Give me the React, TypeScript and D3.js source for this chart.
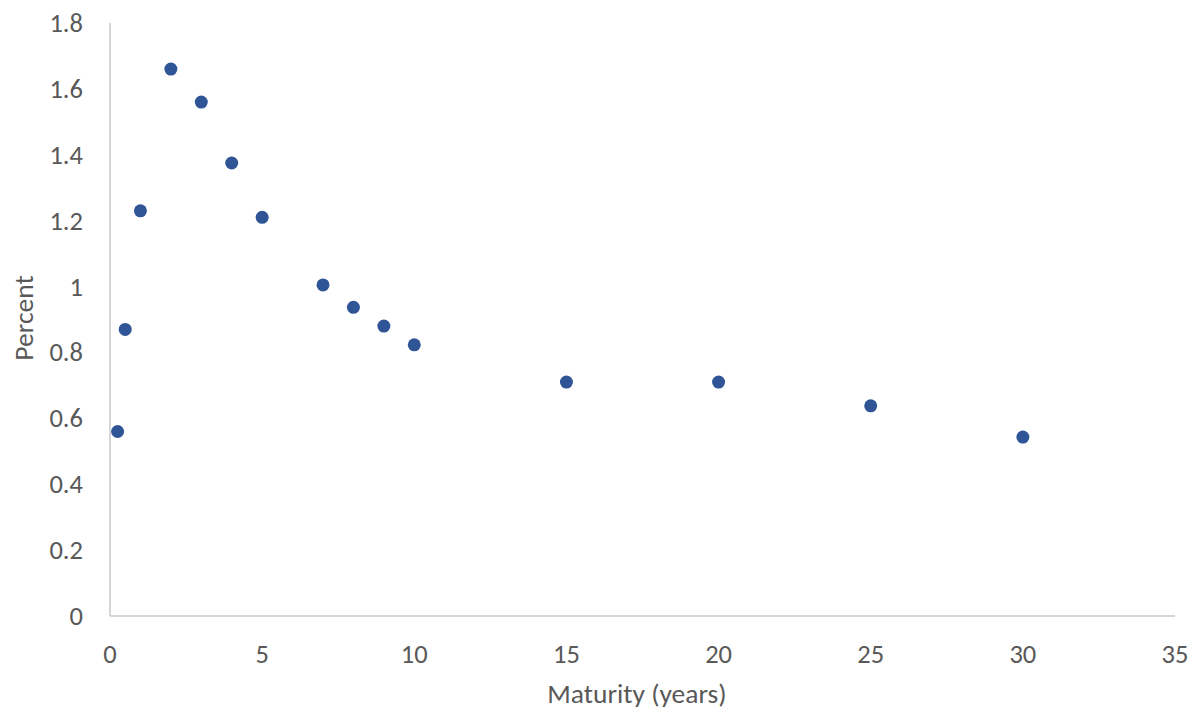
import React from "react";
import * as d3 from "d3";

const maturities = [0.25, 0.5, 1, 2, 3, 4, 5, 7, 8, 9, 10, 15, 20, 25, 30];
const percents = [0.56, 0.87, 1.23, 1.66, 1.56, 1.375, 1.21, 1.005, 0.937, 0.88, 0.823, 0.71, 0.71, 0.638, 0.543];
const xTicks = [0, 5, 10, 15, 20, 25, 30, 35];
const yTicks = [0, 0.2, 0.4, 0.6, 0.8, 1, 1.2, 1.4, 1.6, 1.8];
const xTitle = "Maturity (years)";
const yTitle = "Percent";

const W = 1194;
const H = 708;
const FONT = "Calibri, Carlito, 'Open Sans', sans-serif";

export default function App() {
  const x = d3.scaleLinear().domain([0, 35]).range([110, 1175]);
  const y = d3.scaleLinear().domain([0, 1.8]).range([616, 23]);
  const axisColor = "#c8c8c8";
  const textColor = "#595959";
  return (
    <svg width={W} height={H} style={{ position: "absolute", left: 0, top: 0, background: "#fff" }}>
      <line x1={x(0)} x2={x(35)} y1={y(0)} y2={y(0)} stroke={axisColor} strokeWidth={1.5} />
      <line x1={x(0)} x2={x(0)} y1={y(0)} y2={y(1.8)} stroke={axisColor} strokeWidth={1.5} />
      {yTicks.map((t) => (
        <text key={"y" + t} x={83} y={y(t)} textAnchor="end" dominantBaseline="central"
          fontFamily={FONT} fontSize={26.5} fill={textColor}>
          {String(t)}
        </text>
      ))}
      {xTicks.map((t) => (
        <text key={"x" + t} x={x(t)} y={654} textAnchor="middle" dominantBaseline="central"
          fontFamily={FONT} fontSize={26.5} fill={textColor}>
          {String(t)}
        </text>
      ))}
      <text x={637} y={693} textAnchor="middle" dominantBaseline="central"
        fontFamily={FONT} fontSize={27.5} fill={textColor}>
        {xTitle}
      </text>
      <text transform={`translate(23,318) rotate(-90)`} textAnchor="middle" dominantBaseline="central"
        fontFamily={FONT} fontSize={27.5} fill={textColor}>
        {yTitle}
      </text>
      {maturities.map((m, i) => (
        <circle key={i} cx={x(m)} cy={y(percents[i])} r={6.5} fill="#2f5597" />
      ))}
    </svg>
  );
}
